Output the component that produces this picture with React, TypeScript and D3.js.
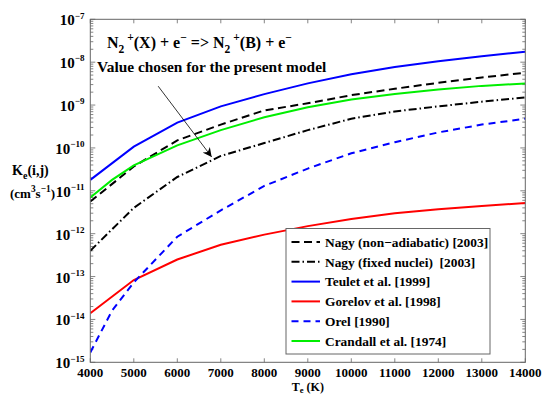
import React from 'react';
import * as d3 from 'd3';

// temperatures (K)
const temps = [4000, 5000, 6000, 7000, 8000, 9000, 10000, 11000, 12000, 13000, 14000];
const tempsFine = [4000, 4500, 5000, 6000, 7000, 8000, 9000, 10000, 11000, 12000, 13000, 14000];

// rate coefficients (cm^3 s^-1)
const nagyNonAdiabatic = [5.6e-12, 3.7e-11, 1.5e-10, 3.5e-10, 7.5e-10, 1.1e-9, 1.7e-9, 2.4e-9, 3.3e-9, 4.4e-9, 5.7e-9];
const nagyFixedNuclei = [4e-13, 4e-12, 2.1e-11, 6.5e-11, 1.3e-10, 2.6e-10, 4.8e-10, 7.1e-10, 9.3e-10, 1.2e-9, 1.5e-9];
const teulet = [1.8e-11, 1.07e-10, 3.9e-10, 9.3e-10, 1.8e-9, 3.2e-9, 5.2e-9, 7.7e-9, 1.05e-8, 1.37e-8, 1.75e-8];
const gorelov = [1.4e-14, 8.3e-14, 2.5e-13, 5.5e-13, 9.5e-13, 1.5e-12, 2.2e-12, 3e-12, 3.7e-12, 4.4e-12, 5.2e-12];
const orel = [1.7e-15, 1.6e-14, 7.3e-14, 8.5e-13, 3.5e-12, 1.3e-11, 3.3e-11, 7.5e-11, 1.36e-10, 2.3e-10, 3.5e-10, 4.8e-10];
const crandall = [7e-12, 1.8e-11, 3.9e-11, 1.15e-10, 2.6e-10, 5.2e-10, 8.9e-10, 1.35e-9, 1.8e-9, 2.3e-9, 2.8e-9, 3.2e-9];

const xTicks = [4000, 5000, 6000, 7000, 8000, 9000, 10000, 11000, 12000, 13000, 14000];
const yDecades = [-15, -14, -13, -12, -11, -10, -9, -8, -7];

const series = [
    {name: 'Nagy (non\u2212adiabatic) [2003]', x: temps, y: nagyNonAdiabatic, color: '#000', dash: '8,4.5'},
    {name: 'Nagy (fixed nuclei)  [2003]', x: temps, y: nagyFixedNuclei, color: '#000', dash: '8,3,1.5,3'},
    {name: 'Teulet et al. [1999]', x: temps, y: teulet, color: '#0000ff', dash: null},
    {name: 'Gorelov et al. [1998]', x: temps, y: gorelov, color: '#ff0000', dash: null},
    {name: 'Orel [1990]', x: tempsFine, y: orel, color: '#0000ff', dash: '7,5'},
    {name: 'Crandall et al. [1974]', x: tempsFine, y: crandall, color: '#00ee00', dash: null},
];

const FONT = '"Liberation Serif", "Times New Roman", serif';

type Part = {t: string; s?: 'sub' | 'sup'};

// text with sub/superscripts via tspans
const Rich = ({x, y, parts, size, anchor, supScale = 0.72, subShift = 0.3}: {x: number; y: number; parts: Part[]; size: number; anchor?: string; supScale?: number; subShift?: number}) => {
    let off = 0;
    return (
        <text x={x} y={y} fontSize={size} fontWeight="bold" fontFamily={FONT} textAnchor={anchor || 'start'}>
            {parts.map((p, i) => {
                const target = p.s === 'sup' ? -size * 0.45 : p.s === 'sub' ? size * subShift : 0;
                const dy = target - off;
                off = target;
                return (
                    <tspan key={i} dy={dy} fontSize={p.s ? size * supScale : size}>
                        {p.t}
                    </tspan>
                );
            })}
        </text>
    );
};

const App = () => {
    const width = 543;
    const height = 395;
    const left = 90.3;
    const right = 525.3;
    const top = 19.3;
    const bottom = 362.3;

    const xScale = d3.scaleLinear().domain([4000, 14000]).range([left, right]);
    const yScale = d3.scaleLog().domain([1e-15, 1e-7]).range([bottom, top]);

    const line = d3
        .line<[number, number]>()
        .x((d) => xScale(d[0]))
        .y((d) => yScale(d[1]));

    const yTicks = yScale.ticks();
    const axisColor = '#666';

    const legendX = 286;
    const legendY = 228.5;
    const legendW = 204;
    const rowH = 19.8;

    const arrowStart: [number, number] = [xScale(5560), yScale(10 ** -8.56)];
    const arrowEnd: [number, number] = [xScale(6790), yScale(10 ** -10.21)];

    return (
        <svg width={width} height={height} style={{position: 'absolute', left: 0, top: 0, background: '#fff'}}>
            <defs>
                <marker id="arr" viewBox="0 0 10 10" refX="10" refY="5" markerWidth="9" markerHeight="9" orient="auto" markerUnits="userSpaceOnUse">
                    <path d="M0,0 L10,5 L0,10 L3,5 Z" fill="#000" />
                </marker>
                <clipPath id="plot">
                    <rect x={left} y={top} width={right - left} height={bottom - top} />
                </clipPath>
            </defs>

            {/* ticks */}
            {yTicks.map((t, i) => {
                const major = Math.abs(Math.log10(t) - Math.round(Math.log10(t))) < 1e-6;
                const len = major ? 5 : 3;
                const y = yScale(t);
                return (
                    <g key={'yt' + i} stroke={axisColor} strokeWidth={0.8}>
                        <line x1={left} x2={left + len} y1={y} y2={y} />
                        <line x1={right} x2={right - len} y1={y} y2={y} />
                    </g>
                );
            })}
            {xTicks.map((t) => (
                <g key={'xt' + t} stroke={axisColor} strokeWidth={0.8}>
                    <line x1={xScale(t)} x2={xScale(t)} y1={bottom} y2={bottom - 4} />
                    <line x1={xScale(t)} x2={xScale(t)} y1={top} y2={top + 4} />
                </g>
            ))}

            {/* series */}
            <g clipPath="url(#plot)">
                {series.map((s) => (
                    <path
                        key={s.name}
                        d={line(s.x.map((v, i) => [v, s.y[i]] as [number, number])) || ''}
                        fill="none"
                        stroke={s.color}
                        strokeWidth={2}
                        strokeDasharray={s.dash || undefined}
                    />
                ))}
            </g>

            <rect x={left} y={top} width={right - left} height={bottom - top} fill="none" stroke={axisColor} strokeWidth={1} />

            {/* y tick labels */}
            {yDecades.map((e) => (
                <Rich
                    key={'yl' + e}
                    x={84.5}
                    y={yScale(10 ** e) + 6}
                    size={15}
                    supScale={0.6}
                    anchor="end"
                    parts={[{t: '10'}, {t: '\u2212' + Math.abs(e), s: 'sup'}]}
                />
            ))}

            {/* x tick labels */}
            {xTicks.map((t) => (
                <text key={'xl' + t} x={xScale(t)} y={377} fontSize={13} fontWeight="bold" fontFamily={FONT} textAnchor="middle">
                    {t}
                </text>
            ))}

            {/* axis titles */}
            <Rich x={(left + right) / 2} y={391} size={12} subShift={0.15} anchor="middle" parts={[{t: 'T'}, {t: 'e', s: 'sub'}, {t: ' (K)'}]} />
            <Rich x={12} y={175} size={14} parts={[{t: 'K'}, {t: 'e', s: 'sub'}, {t: '(i,j)'}]} />
            <Rich x={10} y={198} size={13} parts={[{t: '(cm'}, {t: '3', s: 'sup'}, {t: 's'}, {t: '\u22121', s: 'sup'}, {t: ')'}]} />

            {/* annotation */}
            <Rich
                x={107}
                y={48}
                size={16}
                parts={[
                    {t: 'N'},
                    {t: '2', s: 'sub'},
                    {t: ' +', s: 'sup'},
                    {t: '(X) + e'},
                    {t: '\u2212', s: 'sup'},
                    {t: ' => N'},
                    {t: '2', s: 'sub'},
                    {t: ' +', s: 'sup'},
                    {t: '(B) + e'},
                    {t: '\u2212', s: 'sup'},
                ]}
            />
            <text x={97} y={72} fontSize={15.4} fontWeight="bold" fontFamily={FONT}>
                Value chosen for the present model
            </text>
            <line
                x1={arrowStart[0]}
                y1={arrowStart[1]}
                x2={arrowEnd[0]}
                y2={arrowEnd[1]}
                stroke="#000"
                strokeWidth={0.8}
                markerEnd="url(#arr)"
            />

            {/* legend */}
            <rect x={legendX} y={legendY} width={legendW} height={125.5} fill="#fff" stroke={axisColor} strokeWidth={1} />
            {series.map((s, i) => {
                const y = legendY + 13.5 + i * rowH;
                return (
                    <g key={'lg' + s.name}>
                        <line x1={291.5} x2={320} y1={y} y2={y} stroke={s.color} strokeWidth={2} strokeDasharray={s.dash || undefined} />
                        <text x={325} y={y + 4.7} fontSize={13.4} fontWeight="bold" fontFamily={FONT} xmlSpace="preserve">
                            {s.name}
                        </text>
                    </g>
                );
            })}
        </svg>
    );
};

export default App;
